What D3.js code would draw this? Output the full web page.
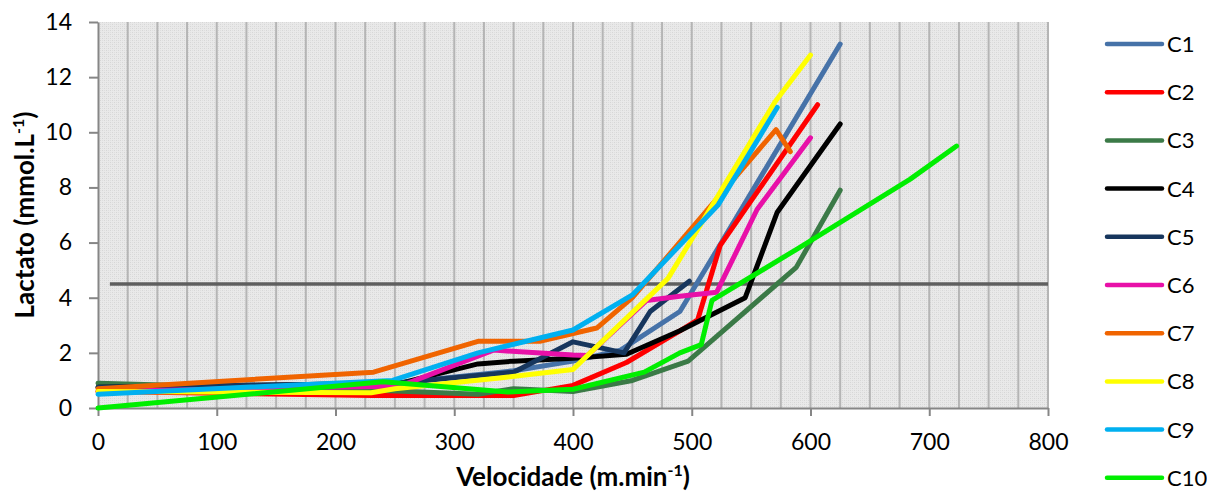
<!DOCTYPE html>
<html><head><meta charset="utf-8">
<script src="https://cdn.jsdelivr.net/npm/d3@7/dist/d3.min.js"></script>
<style>
body{margin:0;background:#fff;}
svg{display:block;font-family:Lato,"Open Sans",sans-serif;}
</style>
</head><body>
<svg id="chart" width="1207" height="495"></svg>
<script>
// ---- data (velocity m.min-1, lactate mmol.L-1) ----
const seriesNames = ["C1","C2","C3","C4","C5","C6","C7","C8","C9","C10"];
const seriesColors = ["#4672a8","#ff0000","#3b7a47","#000000","#17365d","#e810a8","#f06400","#ffff00","#00b0f0","#00ee00"];
const C1  = [[0,0.6],[250,0.9],[350,1.35],[400,1.7],[440,2.1],[490,3.5],[525,6.0],[625,13.2]];
const C2  = [[0,0.6],[230,0.45],[350,0.45],[400,0.82],[445,1.65],[490,2.8],[505,3.2],[524,5.9],[606,11.0]];
const C3  = [[0,0.9],[70,0.82],[230,0.65],[320,0.5],[350,0.7],[400,0.6],[450,1.0],[497,1.7],[588,5.1],[625,7.9]];
const C4  = [[0,0.75],[255,0.9],[320,1.6],[350,1.7],[400,1.8],[445,1.95],[490,2.8],[545,4.0],[572,7.1],[625,10.3]];
const C5  = [[0,0.75],[250,0.9],[350,1.3],[400,2.4],[443,2.0],[465,3.5],[498,4.6]];
const C6  = [[0,0.6],[255,0.8],[333,2.1],[400,1.92],[412,1.9],[462,3.9],[490,4.05],[521,4.2],[555,7.2],[600,9.8]];
const C7  = [[0,0.7],[232,1.3],[320,2.42],[372,2.42],[420,2.9],[450,4.0],[571,10.1],[583,9.3]];
const C8  = [[0,0.6],[230,0.55],[250,0.7],[340,1.1],[400,1.4],[480,4.7],[570,11.1],[600,12.8]];
const C9  = [[0,0.5],[248,1.0],[320,2.0],[400,2.83],[450,4.1],[522,7.35],[572,10.9]];
const C10 = [[0,0.0],[240,0.95],[345,0.58],[400,0.68],[460,1.3],[490,2.0],[508,2.3],[517,3.9],[590,5.8],[684,8.3],[723,9.5]];
const allSeries = [C1,C2,C3,C4,C5,C6,C7,C8,C9,C10];
const threshold = [[10,4.5],[800,4.5]];
const xTicks = [0,100,200,300,400,500,600,700,800];
const yTicks = [0,2,4,6,8,10,12,14];

// ---- layout ----
const svg = d3.select("#chart");
const x = d3.scaleLinear().domain([0,800]).range([98,1048]);
const y = d3.scaleLinear().domain([0,14]).range([408,22]);

// background pattern
const defs = svg.append("defs");
const pat = defs.append("pattern").attr("id","dots").attr("width",4).attr("height",4).attr("patternUnits","userSpaceOnUse");
pat.append("rect").attr("width",4).attr("height",4).attr("fill","#e9e9e9");
pat.append("rect").attr("x",0).attr("y",0).attr("width",1).attr("height",1).attr("fill","#d6d6d6");
pat.append("rect").attr("x",2).attr("y",2).attr("width",1).attr("height",1).attr("fill","#d6d6d6");
pat.append("rect").attr("x",2).attr("y",0).attr("width",1).attr("height",1).attr("fill","#dedede");
pat.append("rect").attr("x",0).attr("y",2).attr("width",1).attr("height",1).attr("fill","#dedede");

svg.append("rect").attr("x",x(0)).attr("y",y(14)).attr("width",x(800)-x(0)).attr("height",y(0)-y(14)).attr("fill","url(#dots)");

// vertical grid every 25
svg.append("g").selectAll("line").data(d3.range(25,801,25)).join("line")
  .attr("x1",d=>x(d)).attr("x2",d=>x(d)).attr("y1",y(14)).attr("y2",y(0))
  .attr("stroke","#b5b5b5").attr("stroke-width",2);

// axes
const yAxis = svg.append("g").attr("transform",`translate(${x(0)},0)`)
  .call(d3.axisLeft(y).tickValues(yTicks).tickSize(9).tickSizeOuter(0).tickPadding(17));
const xAxis = svg.append("g").attr("transform",`translate(0,${y(0)})`)
  .call(d3.axisBottom(x).tickValues(xTicks).tickSize(8).tickSizeOuter(0).tickPadding(18));
[yAxis,xAxis].forEach(a=>{
  a.select(".domain").attr("stroke","#868686").attr("stroke-width",2);
  a.selectAll(".tick line").attr("stroke","#868686").attr("stroke-width",2);
  a.selectAll(".tick text").attr("fill","#000").style("font-size","23px").style("font-family","Lato, sans-serif");
});

// threshold line
const line = d3.line().x(d=>x(d[0])).y(d=>y(d[1]));
svg.append("path").datum(threshold).attr("d",line).attr("fill","none")
  .attr("stroke","#5f5f5f").attr("stroke-width",3.5);

// series
svg.append("g").selectAll("path").data(allSeries).join("path")
  .attr("d",line).attr("fill","none")
  .attr("stroke",(d,i)=>seriesColors[i]).attr("stroke-width",5)
  .attr("stroke-linejoin","round").attr("stroke-linecap","round");

// axis titles
const xt = svg.append("text").attr("x",(x(0)+x(800))/2).attr("y",486).attr("text-anchor","middle")
  .style("font-size","26px").style("font-weight","bold");
xt.append("tspan").text("Velocidade (m.min");
xt.append("tspan").attr("dy",-10).style("font-size","16px").text("-1");
xt.append("tspan").attr("dy",10).text(")");

const yt = svg.append("text").attr("transform",`translate(34,${(y(0)+y(14))/2}) rotate(-90)`).attr("text-anchor","middle")
  .style("font-size","26px").style("font-weight","bold");
yt.append("tspan").text("Lactato (mmol.L");
yt.append("tspan").attr("dy",-10).style("font-size","16px").text("-1");
yt.append("tspan").attr("dy",10).text(")");

// legend
const lg = svg.append("g").selectAll("g").data(seriesNames).join("g")
  .attr("transform",(d,i)=>`translate(1107,${44+i*48.2})`);
lg.append("line").attr("x1",0).attr("x2",55).attr("y1",0).attr("y2",0)
  .attr("stroke",(d,i)=>seriesColors[i]).attr("stroke-width",4.5).attr("stroke-linecap","round");
lg.append("text").attr("x",60).attr("y",0).attr("dy","0.36em").style("font-size","22px").text(d=>d);
</script>
</body></html>
